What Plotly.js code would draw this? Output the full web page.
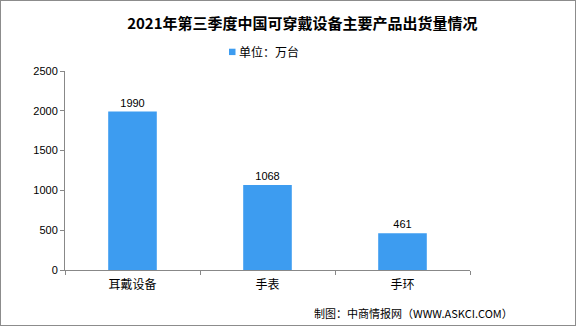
<!DOCTYPE html>
<html><head><meta charset="utf-8">
<script src="https://cdn.plot.ly/plotly-3.0.1.min.js"></script>
<style>
html,body{margin:0;padding:0;background:#fff;}
#wrap{width:574px;height:324px;border:1px solid #8c8c8c;}
#chart{width:574px;height:324px;}
</style></head>
<body><div id="wrap"><div id="chart"></div></div>
<script>
const categories = ['耳戴设备', '手表', '手环'];
const values = [1990, 1068, 461];
const seriesName = '单位：万台';
const titleText = '2021年第三季度中国可穿戴设备主要产品出货量情况';
const sourceText = '制图：中商情报网（WWW.ASKCI.COM）';
const yTicks = [0, 500, 1000, 1500, 2000, 2500];
const barColor = '#3d9cf0';

const trace = {
  type: 'bar', x: categories, y: values, name: seriesName,
  marker: {color: barColor}, width: 0.36,
  text: values.map(String), textposition: 'outside',
  textfont: {family: 'Liberation Sans, Arial, sans-serif', size: 11, color: '#000'},
  cliponaxis: false, showlegend: false
};
const layout = {
  width: 574, height: 324,
  margin: {l: 64, r: 105, t: 70, b: 55},
  paper_bgcolor: '#fff', plot_bgcolor: '#fff',
  title: {text: titleText, x: 0.525, xanchor: 'center', y: 0.93, yanchor: 'middle',
    font: {family: 'Noto Sans CJK SC, sans-serif', size: 15, color: '#000', weight: 'bold'}},
  showlegend: false,
  xaxis: {type: 'category', showline: true, linecolor: '#888', linewidth: 1,
    ticks: 'outside', tickson: 'boundaries', ticklen: 4, tickcolor: '#888',
    showgrid: false, zeroline: false, ticklabelstandoff: 4,
    tickfont: {family: 'Noto Sans CJK SC, sans-serif', size: 12, color: '#000'}},
  yaxis: {range: [0, 2500], tickvals: yTicks, ticktext: yTicks.map(String),
    showline: true, linecolor: '#888', linewidth: 1, ticks: 'outside', ticklen: 4,
    tickcolor: '#888', showgrid: false, zeroline: false,
    tickfont: {family: 'Liberation Sans, Arial, sans-serif', size: 11, color: '#000'}},
  shapes: [{type: 'rect', xref: 'paper', yref: 'paper', x0: 0.405, x1: 0.421, y0: 1.08, y1: 1.112,
    fillcolor: barColor, line: {width: 0}}],
  annotations: [
    {text: seriesName, xref: 'paper', yref: 'paper', x: 0.425, xanchor: 'left',
      y: 1.096, yanchor: 'middle', showarrow: false,
      font: {family: 'Noto Sans CJK SC, sans-serif', size: 12, color: '#000'}},
    {text: sourceText, xref: 'paper', yref: 'paper', x: 1.11, xanchor: 'right',
      y: -0.216, yanchor: 'middle', showarrow: false,
      font: {family: 'Noto Sans CJK SC, sans-serif', size: 11, color: '#000'}}]
};
Plotly.newPlot('chart', [trace], layout, {displayModeBar: false, staticPlot: true});
</script></body></html>
